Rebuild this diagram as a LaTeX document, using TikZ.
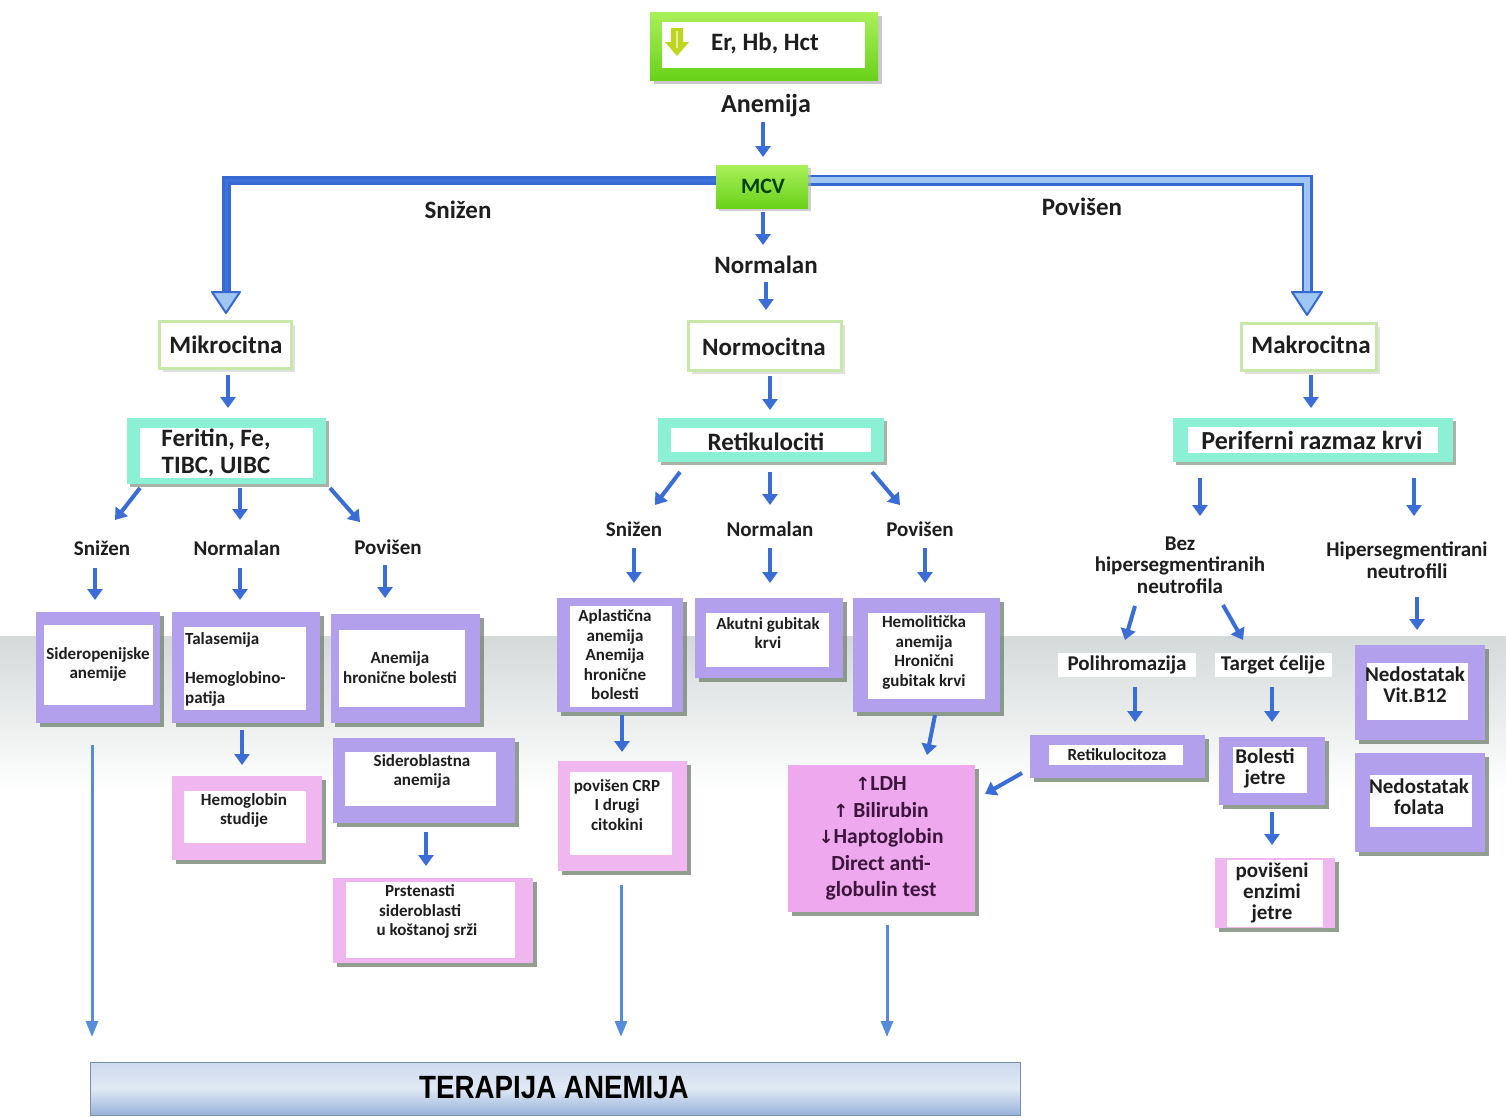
\documentclass[tikz,border=0pt]{standalone}
\usepackage{fontspec}
\setmainfont{Carlito}
\newfontfamily\arialf{Liberation Sans}
\newfontfamily\djv{DejaVu Sans}
\usetikzlibrary{arrows.meta,shadows,calc}
\definecolor{txt}{RGB}{30,30,30}
\definecolor{arrblue}{RGB}{58,110,214}
\definecolor{larrblue}{RGB}{85,140,220}
\definecolor{bigblue}{RGB}{55,105,210}
\definecolor{bigin}{RGB}{62,114,216}
\definecolor{bigin2}{RGB}{160,198,242}
\definecolor{purp}{RGB}{178,160,236}
\definecolor{pinkc}{RGB}{240,182,240}
\definecolor{ldhc}{RGB}{238,168,238}
\definecolor{ldht}{RGB}{60,20,60}
\definecolor{shad}{RGB}{110,128,108}
\definecolor{gtop}{RGB}{170,240,90}
\definecolor{gbot}{RGB}{105,210,25}
\definecolor{lgreen}{RGB}{200,232,170}
\definecolor{cyanc}{RGB}{140,240,212}
\definecolor{bandg}{RGB}{212,217,217}
\definecolor{barA}{RGB}{205,218,238}
\definecolor{barB}{RGB}{150,178,218}
\definecolor{barC}{RGB}{225,233,244}
\definecolor{icon}{RGB}{190,215,30}
\begin{document}
\begin{tikzpicture}[x=1pt,y=-1pt,
  arr/.style={line width=4pt, draw=arrblue, -{Triangle[width=15pt,length=11pt]}},
  longarr/.style={line width=3pt, draw=larrblue, -{Triangle[width=12pt,length=16pt]}},
  lbl/.style={font=\bfseries\fontsize{21}{21.5}\selectfont, text=txt, align=center, inner sep=0},
  big/.style={font=\bfseries\fontsize{25}{27}\selectfont, text=txt, align=center, inner sep=0},
  small/.style={font=\bfseries\fontsize{17}{19.5}\selectfont, text=txt, align=center, inner sep=0},
  mid/.style={font=\bfseries\fontsize{21}{21}\selectfont, text=txt, align=center, inner sep=0},
  shd/.style={drop shadow={shadow xshift=4pt,shadow yshift=-4pt,fill=shad,opacity=.75}},
  pframe/.style={fill=purp, inner sep=0, shd},
  kframe/.style={fill=pinkc, inner sep=0, shd},
  inb/.style={fill=white, inner sep=0},
  gframe/.style={draw=lgreen, line width=3pt, fill=white, inner sep=0,
     drop shadow={shadow xshift=3pt,shadow yshift=-3pt,fill=black!20,opacity=.6}},
  cframe/.style={fill=cyanc, inner sep=0,
     drop shadow={shadow xshift=3pt,shadow yshift=-3pt,fill=shad,opacity=.6}},
]
\useasboundingbox (0,0) rectangle (1506,1117);
\fill[white] (0,0) rectangle (1506,1117);
% background band
\shade[top color=bandg, bottom color=white] (0,636) rectangle (1506,790);

% ---------- top ----------
\node[inner sep=0, minimum width=228pt, minimum height=68pt, top color=gtop, bottom color=gbot,
   drop shadow={shadow xshift=4pt,shadow yshift=-4pt,fill=black!35,opacity=.6}] (erO) at (764,46) {};
\node[inb, minimum width=203pt, minimum height=46pt] (erI) at (763.5,45) {};
\fill[icon] (671,28) -- (683,28) -- (683,42) -- (689,42) -- (677,56) -- (665,42) -- (671,42) -- cycle;
\draw[white!60!icon, line width=1.5pt] (677,31) -- (677,48);
\node[big] (er) at (765,43) {Er, Hb, Hct};
\node[big, font=\bfseries\fontsize{26}{27}\selectfont] (anem) at (766,106) {Anemija};

% big branch lines
\draw[line width=9pt, bigblue, line join=miter] (720,180) -- (226,180) -- (226,293);
\draw[line width=3pt, bigin, line join=miter] (720,180) -- (226,180) -- (226,293);
\draw[line width=11pt, bigblue, line join=miter] (805,180) -- (1307,180) -- (1307,293);
\draw[line width=6pt, bigin2, line join=miter] (805,180) -- (1307,180) -- (1307,293);
\draw[bigblue, line width=2pt, fill=bigin2, line join=round] (212,292) -- (240,292) -- (226,313) -- cycle;
\draw[bigblue, line width=2pt, fill=bigin2, line join=round] (1292,292) -- (1322,292) -- (1307,315) -- cycle;

\node[inner sep=0, minimum width=92pt, minimum height=43pt, top color=gtop, bottom color=gbot,
   drop shadow={shadow xshift=3pt,shadow yshift=-3pt,fill=black!30,opacity=.6}] (mcv) at (762,186.5) {};
\node[font=\bfseries\fontsize{22}{22}\selectfont, text=black!75!green, inner sep=0] (mcvT) at (763,186) {MCV};

\node[big] (snT) at (458,210) {Snižen};
\node[big] (poT) at (1082,207) {Povišen};
\node[big] (nlT) at (766,265) {Normalan};

\draw[arr] (763,122) -- (763,157);
\draw[arr] (763,212) -- (763,245);
\draw[arr] (766,282) -- (766,310);

% ---------- level 2 ----------
\node[gframe, minimum width=132pt, minimum height=47pt] (mikro) at (225.5,345) {};
\node[big] (mikroT) at (226,345) {Mikrocitna};
\node[gframe, minimum width=153pt, minimum height=49pt] (normo) at (765,346) {};
\node[big] (normoT) at (764,347) {Normocitna};
\node[gframe, minimum width=135pt, minimum height=47pt] (makro) at (1309,347) {};
\node[big] (makroT) at (1311,345) {Makrocitna};

\draw[arr] (228,375) -- (228,408);
\draw[arr] (770,376) -- (770,410);
\draw[arr] (1311,375) -- (1311,408);

\node[cframe, minimum width=199pt, minimum height=66pt] (ferO) at (226.5,451) {};
\node[inb, minimum width=173pt, minimum height=50pt] (ferI) at (226.5,453) {};
\node[big] (ferT) at (216,453) {Feritin, Fe,\\TIBC, UIBC};

\node[cframe, minimum width=226pt, minimum height=44pt] (retO) at (771,440) {};
\node[inb, minimum width=200pt, minimum height=24pt] (retI) at (771,440) {};
\node[big] (retT) at (766,442) {Retikulociti};

\node[cframe, minimum width=280pt, minimum height=44pt] (perO) at (1313,440) {};
\node[inb, minimum width=250pt, minimum height=26pt] (perI) at (1313,440) {};
\node[big, font=\bfseries\fontsize{26}{27}\selectfont] (perT) at (1312,440) {Periferni razmaz krvi};

% ---------- level 3 labels ----------
\draw[arr] (140,488) -- (115,520);
\draw[arr] (240,488) -- (240,520);
\draw[arr] (330,488) -- (360,522);
\node[lbl] (l1a) at (102,548) {Snižen};
\node[lbl] (l1b) at (237,548) {Normalan};
\node[lbl] (l1c) at (388,547) {Povišen};
\draw[arr] (95,568) -- (95,600);
\draw[arr] (240,568) -- (240,600);
\draw[arr] (385,565) -- (385,598);

\draw[arr] (680,472) -- (655,505);
\draw[arr] (770,472) -- (770,505);
\draw[arr] (872,472) -- (900,505);
\node[lbl] (l2a) at (634,529) {Snižen};
\node[lbl] (l2b) at (770,529) {Normalan};
\node[lbl] (l2c) at (920,529) {Povišen};
\draw[arr] (634,548) -- (634,583);
\draw[arr] (770,548) -- (770,583);
\draw[arr] (925,548) -- (925,583);

\draw[arr] (1200,478) -- (1200,516);
\draw[arr] (1414,478) -- (1414,516);
\node[lbl] (bez) at (1180,565) {Bez\\hipersegmentiranih\\neutrofila};
\node[lbl] (hip) at (1407,560) {Hipersegmentirani\\neutrofili};
\draw[arr] (1135,606) -- (1125,640);
\draw[arr] (1223,605) -- (1243,640);
\draw[arr] (1417,597) -- (1417,630);

% ---------- left boxes ----------
\node[pframe, minimum width=124pt, minimum height=111pt] (sid) at (98,667.5) {};
\node[inb, minimum width=109pt, minimum height=80pt] (sidI) at (98.5,665) {};
\node[small] (sidT) at (98,664.5) {Sideropenijske\\anemije};

\node[pframe, minimum width=148pt, minimum height=111pt] (tal) at (246,667.5) {};
\node[inb, minimum width=122pt, minimum height=83pt] (talI) at (245,668.5) {};
\node[small, align=left, anchor=west] (talT) at (185,669.5) {Talasemija\\[19.5pt]Hemoglobino-\\patija};

\node[pframe, minimum width=149pt, minimum height=109pt] (ahb) at (405.5,668.5) {};
\node[inb, minimum width=126pt, minimum height=77pt] (ahbI) at (402,668.5) {};
\node[small] (ahbT) at (400,667.5) {Anemija\\hronične bolesti};

\draw[arr] (242,730) -- (242,765);
\node[kframe, minimum width=150pt, minimum height=84pt] (hs) at (247,818) {};
\node[inb, minimum width=122pt, minimum height=52pt] (hsI) at (245,817) {};
\node[small] (hsT) at (244,810.5) {Hemoglobin\\studije};

\node[pframe, minimum width=182pt, minimum height=85pt] (sb) at (424,780.5) {};
\node[inb, minimum width=151pt, minimum height=54pt] (sbI) at (420.5,779) {};
\node[small] (sbT) at (422,771.5) {Sideroblastna\\anemija};

\draw[arr] (426,832) -- (426,866);
\node[kframe, minimum width=200pt, minimum height=85pt] (pr) at (433,920.5) {};
\node[inb, minimum width=169pt, minimum height=76pt] (prI) at (430.5,920) {};
\node[small] (prT) at (420,911.5) {Prstenasti\\sideroblasti\\\hspace*{14pt}u koštanoj srži};

% ---------- middle boxes ----------
\node[pframe, minimum width=126pt, minimum height=114pt] (apl) at (620,655) {};
\node[inb, minimum width=102pt, minimum height=101pt] (aplI) at (621,656.5) {};
\node[small] (aplT) at (615,655) {Aplastična\\anemija\\Anemija\\hronične\\bolesti};

\node[pframe, minimum width=148pt, minimum height=80pt] (akut) at (769,638) {};
\node[inb, minimum width=123pt, minimum height=54pt] (akutI) at (767.5,640) {};
\node[small] (akutT) at (768,633) {Akutni gubitak\\krvi};

\node[pframe, minimum width=147pt, minimum height=114pt] (hem) at (926.5,655) {};
\node[inb, minimum width=117pt, minimum height=86pt] (hemI) at (926.5,656) {};
\node[small] (hemT) at (924,652.5) {Hemolitička\\anemija\\Hronični\\gubitak krvi};

\draw[arr] (622,715) -- (622,752);
\node[kframe, minimum width=129pt, minimum height=110pt] (crp) at (622.5,816) {};
\node[inb, minimum width=102pt, minimum height=83pt] (crpI) at (621,813.5) {};
\node[small] (crpT) at (617,805) {povišen CRP\\I drugi\\citokini};

\draw[arr] (935,715) -- (927,755);
\node[fill=ldhc, inner sep=0, minimum width=187pt, minimum height=147pt, shd] (ldh) at (881.5,838.5) {};
\node[font=\bfseries\fontsize{21.5}{26.5}\selectfont, text=ldht, align=center, inner sep=0] (ldhT) at (881,838.5)
  {{\djv\fontsize{18}{20}\selectfont ↑}LDH\\{\djv\fontsize{18}{20}\selectfont ↑} Bilirubin\\{\djv\fontsize{18}{20}\selectfont ↓}Haptoglobin\\Direct anti-\\globulin test};

% ---------- right boxes ----------
\node[fill=white, inner sep=0, minimum width=138pt, minimum height=24pt, mid] (poli) at (1127,665) {Polihromazija};
\node[fill=white, inner sep=0, minimum width=117pt, minimum height=24pt, mid] (targ) at (1273,665) {Target ćelije};
\draw[arr] (1135,687) -- (1135,722);
\draw[arr] (1272,687) -- (1272,722);

\node[pframe, minimum width=175pt, minimum height=43pt] (retc) at (1117.5,756.5) {};
\node[inb, minimum width=134pt, minimum height=20pt] (retcI) at (1116,755) {};
\node[small] (retcT) at (1117,755) {Retikulocitoza};
\draw[arr] (1022,773) -- (985,794);

\node[pframe, minimum width=106pt, minimum height=68pt] (bj) at (1272,771) {};
\node[inb, minimum width=74pt, minimum height=46pt] (bjI) at (1270,770) {};
\node[mid] (bjT) at (1265,768.5) {Bolesti\\jetre};

\draw[arr] (1272,812) -- (1272,845);
\node[kframe, minimum width=120pt, minimum height=70pt] (pe) at (1275,893) {};
\node[inb, minimum width=96pt, minimum height=67pt] (peI) at (1275,893.5) {};
\node[mid] (peT) at (1272,892.5) {povišeni\\enzimi\\jetre};

\node[pframe, minimum width=130pt, minimum height=95pt] (vb) at (1420,692.5) {};
\node[inb, minimum width=101pt, minimum height=57pt] (vbI) at (1417.5,691.5) {};
\node[mid] (vbT) at (1415,685) {Nedostatak\\Vit.B12};

\node[pframe, minimum width=130pt, minimum height=99pt] (fo) at (1420,802.5) {};
\node[inb, minimum width=102pt, minimum height=52pt] (foI) at (1421,801) {};
\node[mid] (foT) at (1419,797) {Nedostatak\\folata};

% ---------- bottom ----------
\node[inner sep=0, minimum width=930pt, minimum height=53pt, draw=barB!80!black, line width=1pt,
   top color=barA, bottom color=barB, middle color=barC] (ter) at (555,1088.5) {};
\node[font=\arialf\bfseries\fontsize{28}{30}\selectfont, text=black, inner sep=0] (terT) at (554,1088) {\scalebox{0.99}[1.15]{TERAPIJA ANEMIJA}};
\coordinate (t1) at (92,1037);
\coordinate (t2) at (621,1037);
\coordinate (t3) at (887,1037);
\draw[longarr] (92,745) -- (t1);
\draw[longarr] (621,885) -- (t2);
\draw[longarr] (887,925) -- (t3);
\end{tikzpicture}
\end{document}
